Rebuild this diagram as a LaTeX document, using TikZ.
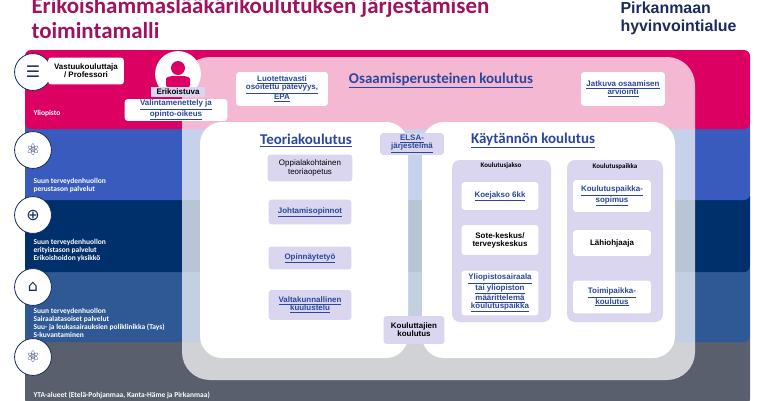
\documentclass[tikz,border=0pt]{standalone}
\usepackage{fontspec}
\setmainfont{Liberation Sans}
\newfontfamily\carl{Carlito}
\newfontfamily\dvs{DejaVu Sans}
\definecolor{mag}{HTML}{DC0063}
\definecolor{tmag}{HTML}{A0125E}
\definecolor{b1}{HTML}{3A5BBE}
\definecolor{b2}{HTML}{00306B}
\definecolor{b3}{HTML}{2E5994}
\definecolor{b4}{HTML}{595F6C}
\definecolor{lav}{HTML}{DAD6F0}
\definecolor{lnk}{HTML}{2B479C}
\definecolor{navy}{HTML}{1B2B5C}
\newcommand\lk[1]{\underline{#1}}
\tikzset{
 wbox/.style={fill=white,rounded corners=3,align=center,inner sep=1pt,font=\fontsize{8}{8}\selectfont\bfseries,text=lnk},
 lbox/.style={wbox,fill=lav},
 blab/.style={anchor=north west,align=left,text=white,font=\carl\fontsize{7.5}{8}\selectfont\bfseries},
 ico/.style={circle,draw=navy,line width=0.8,fill=white,minimum size=37,inner sep=0,text=navy,font=\dvs\fontsize{16}{16}\selectfont},
 head/.style={text=lnk,font=\carl\fontsize{15}{15}\selectfont\bfseries}
}
\begin{document}
\begin{tikzpicture}[x=1bp,y=-1bp]
\useasboundingbox (0,0) rectangle (760,400);
% bands
\fill[b4,rounded corners=6] (25,330) rectangle (750,405);
\fill[b3,rounded corners=6] (25,262) rectangle (750,342);
\fill[b2,rounded corners=6] (25,190) rectangle (750,272);
\fill[b1,rounded corners=6] (25,120) rectangle (750,200);
\fill[mag,rounded corners=6] (25,50) rectangle (750,129);
% overlay
\fill[white,opacity=0.72,rounded corners=28] (182,57) rectangle (695,380);
% inner white panels
\fill[white,rounded corners=22] (200,122) rectangle (408,358);
\fill[white,rounded corners=22] (422,122) rectangle (675,358);
% title
\node[anchor=base west,text=tmag,font=\carl\fontsize{23}{23}\selectfont\bfseries] (t1) at (28,13) {Erikoishammaslääkärikoulutuksen järjestämisen};
\node[anchor=base west,text=tmag,font=\carl\fontsize{23}{23}\selectfont\bfseries] (t2) at (28,38) {toimintamalli};
\node[anchor=base west,text=navy,font=\bfseries\fontsize{16}{16}\selectfont] (p1) at (617,13) {Pirkanmaan};
\node[anchor=base west,text=navy,font=\bfseries\fontsize{16}{16}\selectfont] (p2) at (617,31) {hyvinvointialue};
% icons
\node[ico] (i1) at (33,72) {☰};
\node[ico] (i2) at (33,150) {⚛};
\node[ico] (i3) at (33,215) {⊕};
\node[ico] (i4) at (33,287) {⌂};
\node[ico] (i5) at (33,357) {⚛};
% person
\node[circle,fill=white,minimum size=46,inner sep=0] (pers) at (178,74) {};
\fill[mag] (178,68) circle (7);
\fill[mag,rounded corners=3] (166,88) -- (166,82) .. controls (166,77) and (170,76) .. (178,76) .. controls (186,76) and (190,77) .. (190,82) -- (190,88) -- cycle;
% band labels
\node[blab] (l1) at (30,107) {Yliopisto};
\node[blab] (l2) at (30,175) {Suun terveydenhuollon\\perustason palvelut};
\node[blab] (l3) at (30,236) {Suun terveydenhuollon\\erityistason palvelut\\Erikoishoidon yksikkö};
\node[blab] (l4) at (30,305) {Suun terveydenhuollon\\Sairaalatasoiset palvelut\\Suu- ja leukasairauksien poliklinikka (Tays)\\S-kuvantaminen};
\node[blab] (l5) at (30,388) {YTA-alueet (Etelä-Pohjanmaa, Kanta-Häme ja Pirkanmaa)};
% top row
\node[wbox,text=black,minimum width=76,minimum height=27] (vast) at (86,71) {Vastuukouluttaja\\/ Professori};
\node[lbox,text=black,minimum width=55,minimum height=10,rounded corners=0] (erik) at (178,92) {Erikoistuva};
\node[wbox,minimum width=103,minimum height=20] (vali) at (176,110) {\lk{Valintamenettely ja}\\\lk{opinto-oikeus}};
\node[wbox,minimum width=92,minimum height=34] (epa) at (282,89) {\lk{Luotettavasti}\\\lk{osoitettu pätevyys,}\\\lk{EPA}};
\node[head] (osa) at (441,80) {\lk{Osaamisperusteinen koulutus}};
\node[wbox,minimum width=84,minimum height=34] (jatk) at (623,89) {\lk{Jatkuva osaamisen}\\\lk{arviointi}};
% teoria
\node[head] (teo) at (306,140) {\lk{Teoriakoulutus}};
\node[lbox,text=black,font=\fontsize{8}{8.5}\selectfont,minimum width=85,minimum height=27] (opp) at (310,168) {Oppialakohtainen\\teoriaopetus};
\node[lbox,minimum width=83,minimum height=25] (joh) at (310,212) {\lk{Johtamisopinnot}};
\node[lbox,minimum width=83,minimum height=23] (opi) at (310,258) {\lk{Opinnäytetyö}};
\node[lbox,minimum width=83,minimum height=30] (val) at (310,305) {\lk{Valtakunnallinen}\\\lk{kuulustelu}};
\node[lbox,minimum width=64,minimum height=22] (elsa) at (412,144) {\lk{ELSA-}\\\lk{järjestelmä}};
\node[lbox,text=black,minimum width=61,minimum height=28] (kou) at (414,330) {Kouluttajien\\koulutus};
% käytäntö
\node[head] (kay) at (533,140) {\lk{Käytännön koulutus}};
\fill[lav,rounded corners=8] (452,160) rectangle (551,322);
\fill[lav,rounded corners=8] (567,160) rectangle (663,322);
\node[font=\carl\fontsize{7}{7}\selectfont\bfseries] (kj) at (501,166) {Koulutusjakso};
\node[font=\carl\fontsize{7}{7}\selectfont\bfseries] (kp) at (615,167) {Koulutuspaikka};
\node[wbox,minimum width=77,minimum height=28] (koe) at (500,196) {\lk{Koejakso 6kk}};
\node[wbox,text=black,minimum width=77,minimum height=30] (sote) at (500,240) {Sote-keskus/\\terveyskeskus};
\node[wbox,minimum width=77,minimum height=45] (yli) at (500,293) {\lk{Yliopistosairaala}\\\lk{tai yliopiston}\\\lk{määrittelemä}\\\lk{koulutuspaikka}};
\node[wbox,minimum width=78,minimum height=32] (ksop) at (612,196) {\lk{Koulutuspaikka-}\\\lk{sopimus}};
\node[wbox,text=black,minimum width=78,minimum height=26] (lahi) at (612,243) {Lähiohjaaja};
\node[wbox,minimum width=78,minimum height=33] (toim) at (612,297) {\lk{Toimipaikka-}\\\lk{koulutus}};
\end{tikzpicture}
\end{document}
